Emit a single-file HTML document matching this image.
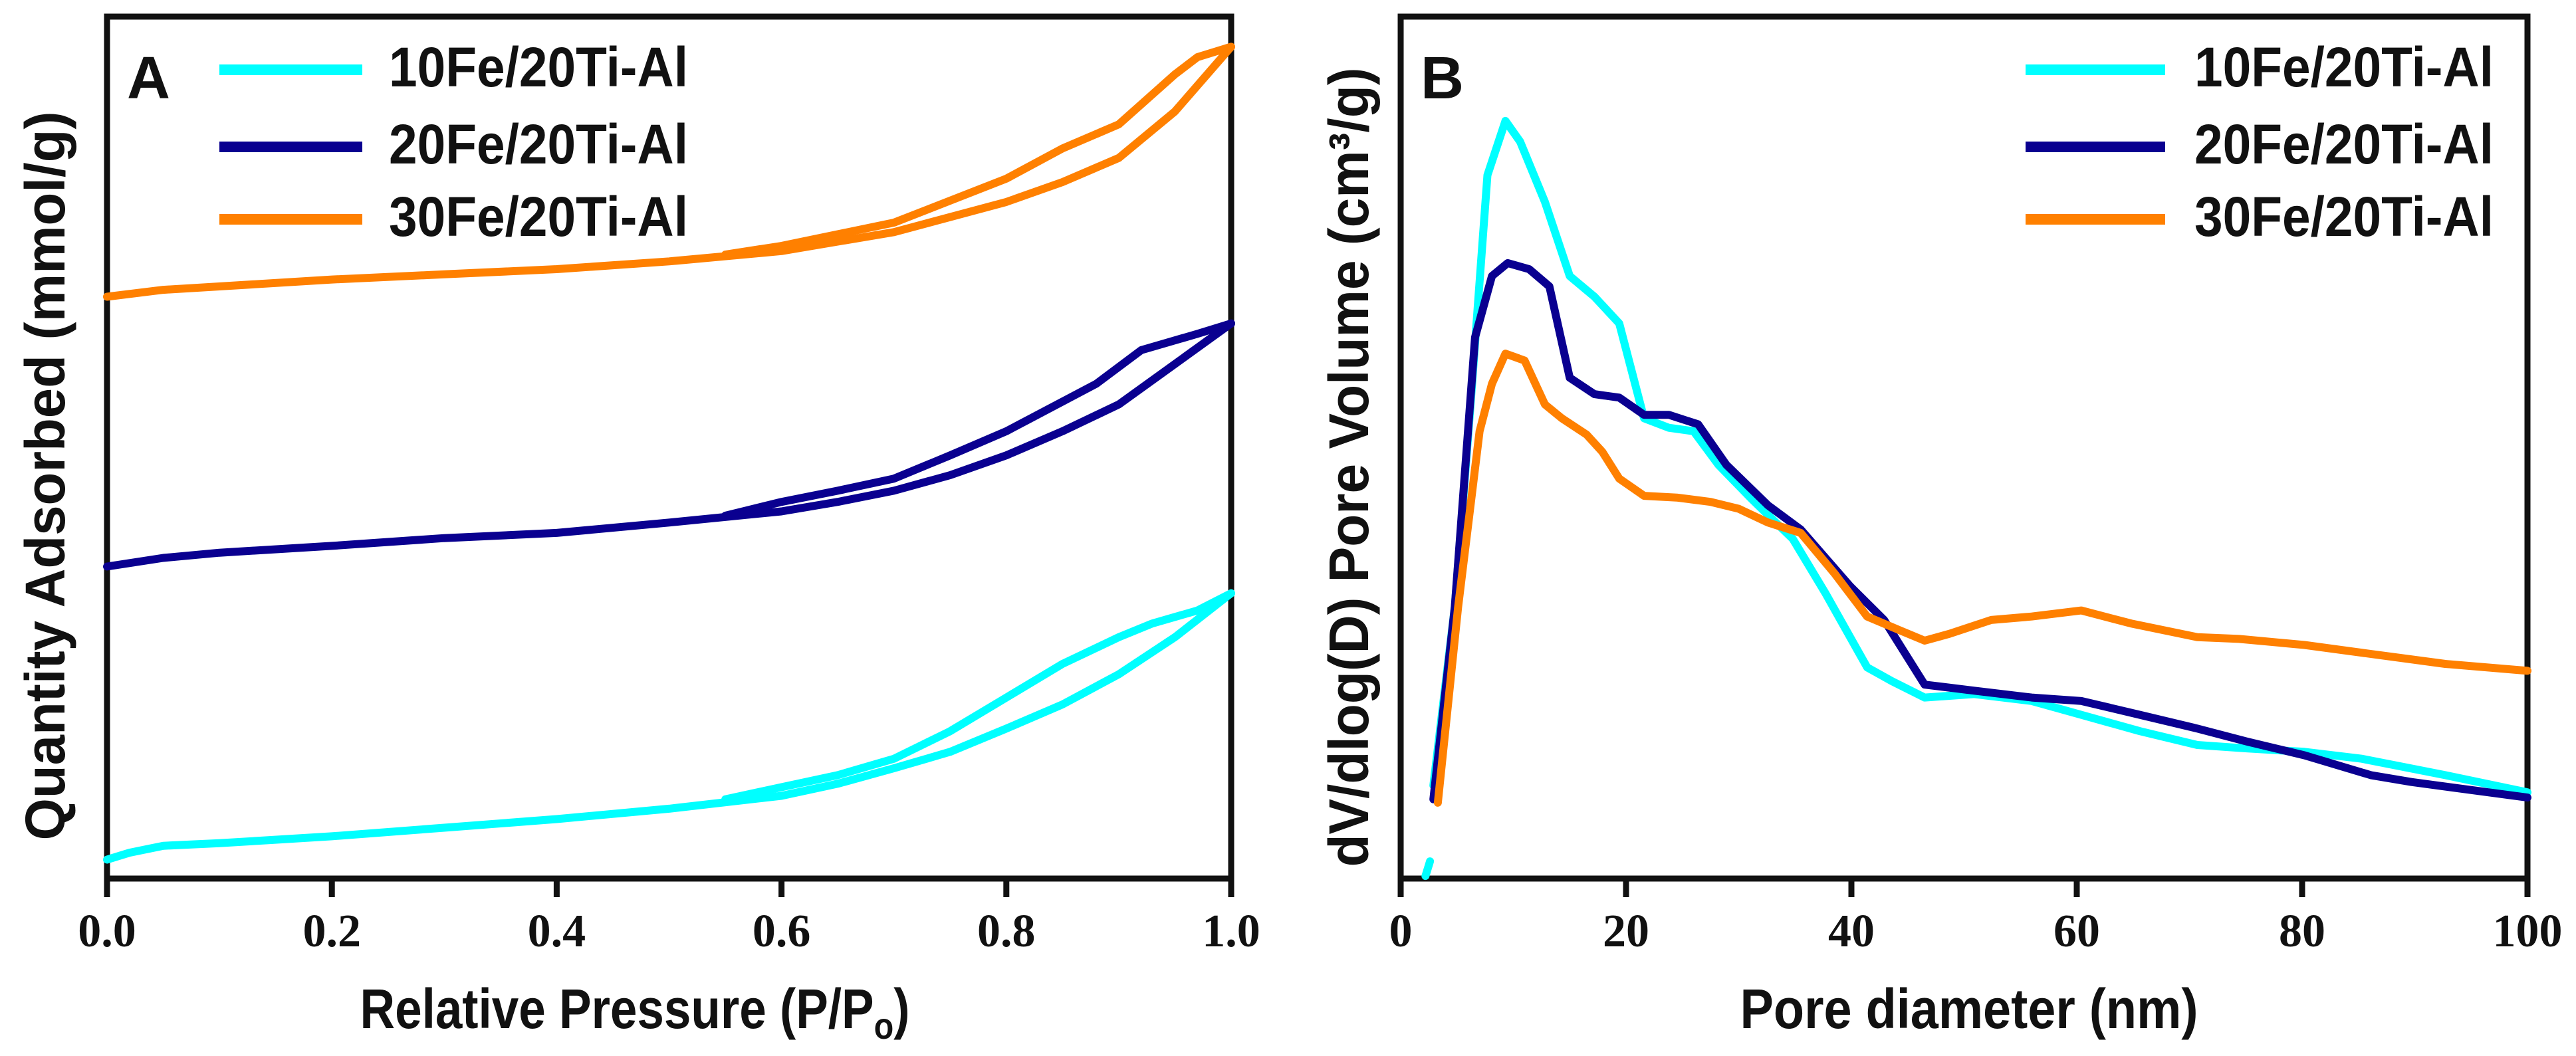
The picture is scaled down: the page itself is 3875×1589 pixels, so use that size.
<!DOCTYPE html>
<html><head><meta charset="utf-8">
<style>
html,body{margin:0;padding:0;background:#fff;}
svg{display:block;}
text{font-family:"Liberation Sans Narrow","Liberation Sans",sans-serif;font-weight:bold;fill:#111;}
.tick{font-family:"Liberation Serif",serif;font-weight:bold;font-size:70px;fill:#111;}
</style></head>
<body>
<svg id="chart" width="3875" height="1589" viewBox="0 0 3875 1589" xmlns="http://www.w3.org/2000/svg">
<g id="panelA"></g>
<g id="panelB"></g>
</svg>
<script>
// Panel A data
const aTicks = [0.0, 0.2, 0.4, 0.6, 0.8, 1.0];
const aTickLabels = ["0.0", "0.2", "0.4", "0.6", "0.8", "1.0"];
const c10AdsX = [0,0.02,0.05,0.1,0.2,0.3,0.4,0.5,0.6,0.65,0.7,0.75,0.8,0.85,0.9,0.95,1.0];
const c10AdsY = [2.2,3.0,3.8,4.1,4.9,5.9,6.9,8.1,9.6,11.0,12.8,14.7,17.4,20.2,23.7,28.0,33.1];
const c10DesX = [1.0,0.97,0.93,0.9,0.85,0.8,0.75,0.7,0.65,0.6,0.55];
const c10DesY = [33.1,31.1,29.6,28.0,24.9,21.0,17.1,13.9,12.0,10.6,9.2];
const c20AdsX = [0,0.05,0.1,0.2,0.3,0.4,0.5,0.6,0.65,0.7,0.75,0.8,0.85,0.9,0.95,1.0];
const c20AdsY = [36.2,37.2,37.8,38.6,39.5,40.1,41.3,42.6,43.7,45.0,46.8,49.1,51.9,55.0,59.7,64.4];
const c20DesX = [1.0,0.97,0.92,0.88,0.8,0.75,0.7,0.65,0.6,0.55];
const c20DesY = [64.4,63.2,61.3,57.4,51.9,49.1,46.4,45.0,43.7,42.1];
const c30AdsX = [0,0.05,0.1,0.2,0.3,0.4,0.5,0.6,0.7,0.8,0.85,0.9,0.95,1.0];
const c30AdsY = [67.5,68.3,68.7,69.5,70.1,70.7,71.6,72.8,75.0,78.5,80.8,83.6,89.0,96.5];
const c30DesX = [1.0,0.97,0.95,0.9,0.85,0.8,0.7,0.6,0.55];
const c30DesY = [96.5,95.3,93.3,87.5,84.7,81.2,76.1,73.4,72.4];
// Panel B data
const bTicks = [0,20,40,60,80,100];
const bTickLabels = ["0","20","40","60","80","100"];
const b10X = [2.9,4.8,6.2,7.7,9.3,10.6,12.8,15.0,17.2,19.4,21.6,23.8,26.0,28.2,31.1,34.8,37.7,41.4,43.6,46.5,50.9,56.0,60.4,65.6,70.7,75.1,80.2,85.3,92.7,100];
const b10Y = [10.8,31.5,55.0,81.6,87.9,85.5,78.5,69.9,67.5,64.4,53.4,52.3,51.9,48.0,44.1,39.4,33.1,24.5,22.9,21.0,21.4,20.6,19.0,17.1,15.5,15.1,14.7,13.9,12.0,10.0];
const b10StubX = [2.2,2.6];
const b10StubY = [0.3,2.0];
const b20X = [2.9,4.8,6.6,8.1,9.5,11.4,13.2,15.0,17.2,19.4,21.6,23.8,26.4,28.9,32.6,35.5,39.9,42.9,46.5,50.9,56.0,60.4,65.6,70.7,75.1,80.2,86.1,89.7,100];
const b20Y = [9.2,31.5,62.8,69.9,71.4,70.7,68.7,58.1,56.2,55.8,53.8,53.8,52.7,48.0,43.3,40.5,33.9,30.0,22.5,21.8,21.0,20.6,19.0,17.4,15.9,14.3,12.0,11.2,9.4];
const b30X = [3.3,5.1,7.0,8.1,9.3,11.0,12.8,14.3,16.5,17.9,19.4,21.6,24.5,27.5,30.0,32.6,35.5,38.5,41.4,44.3,46.5,48.7,52.4,56.0,60.4,64.8,70.7,74.4,80.2,85.3,92.7,100];
const b30Y = [8.8,31.5,51.9,57.4,60.9,60.1,55.0,53.4,51.5,49.5,46.4,44.4,44.2,43.7,42.9,41.3,40.1,35.4,30.4,28.8,27.6,28.4,30.0,30.4,31.1,29.6,28.0,27.8,27.1,26.2,24.9,24.1];
const seriesNames = ["10Fe/20Ti-Al","20Fe/20Ti-Al","30Fe/20Ti-Al"];
const colors = ["#00ffff","#0a0090","#ff8000"];

const NS = "http://www.w3.org/2000/svg";
function mk(tag, attrs, parent){ const e=document.createElementNS(NS,tag); for(const k in attrs) e.setAttribute(k,attrs[k]); parent.appendChild(e); return e; }
const plotTop=25, plotBot=1322;
function yS(v){ return plotBot - v/100*(plotBot-plotTop); }

function drawPanel(g, L, R, xmin, xmax, ticks, tickLabels, letter, xTitle, xTitleX, xTitleLen){
  const xS = v => L + (v-xmin)/(xmax-xmin)*(R-L);
  const ax = mk('path',{d:`M${L},${plotTop} L${R},${plotTop} L${R},${plotBot} L${L},${plotBot} Z`,fill:'none',stroke:'#111','stroke-width':9},g);
  
  
  ticks.forEach((t,i)=>{
    const tm = mk('line',{x1:xS(t),x2:xS(t),y1:plotBot,y2:plotBot+28,stroke:'#111','stroke-width':9},g);
    
    
    const tx = mk('text',{x:xS(t),y:1424,'text-anchor':'middle','class':'tick'},g);
    tx.textContent = tickLabels[i];
    
    
  });
  const lt = mk('text',{x:L+30,y:148,'font-size':90},g);
  lt.textContent = letter;
  
  
  const xt = mk('text',{x:xTitleX,y:1547,'text-anchor':'middle','font-size':84,textLength:xTitleLen,lengthAdjust:'spacingAndGlyphs'},g);
  xt.innerHTML = xTitle;
  
  
  return xS;
}
function line(g, xS, xs, ys, color, name){
  const d = xs.map((x,i)=>(i?'L':'M')+xS(x).toFixed(1)+','+yS(ys[i]).toFixed(1)).join(' ');
  const p = mk('path',{d:d,fill:'none',stroke:color,'stroke-width':12,'stroke-linejoin':'round','stroke-linecap':'round'},g);
  
  
}
function legend(g, x1, x2, tx){
  const ys=[105,221,330];
  seriesNames.forEach((n,i)=>{
    const l = mk('line',{x1:x1,x2:x2,y1:ys[i],y2:ys[i],stroke:colors[i],'stroke-width':16},g);
    
    
    const t = mk('text',{x:tx,y:ys[i]+25,'font-size':84,textLength:450,lengthAdjust:'spacingAndGlyphs'},g);
    t.textContent = n;
    
    
  });
}
function yTitle(g, cx, cy, html, len){
  const t = mk('text',{x:0,y:0,'font-size':84,'text-anchor':'middle',transform:`translate(${cx},${cy}) rotate(-90)`,textLength:len,lengthAdjust:'spacingAndGlyphs'},g);
  t.innerHTML = html;
  
  
}

const gA = document.getElementById('panelA');
const xA = drawPanel(gA, 161, 1852, 0, 1, aTicks, aTickLabels, 'A', 'Relative Pressure (P/P<tspan font-size="56" dy="16">o</tspan><tspan dy="-16">)</tspan>', 955, 827);
yTitle(gA, 97, 716, 'Quantity Adsorbed (mmol/g)', 1097);
line(gA,xA,c10AdsX,c10AdsY,colors[0],'isotherm-10fe-adsorption');
line(gA,xA,c10DesX,c10DesY,colors[0],'isotherm-10fe-desorption');
line(gA,xA,c20AdsX,c20AdsY,colors[1],'isotherm-20fe-adsorption');
line(gA,xA,c20DesX,c20DesY,colors[1],'isotherm-20fe-desorption');
line(gA,xA,c30AdsX,c30AdsY,colors[2],'isotherm-30fe-adsorption');
line(gA,xA,c30DesX,c30DesY,colors[2],'isotherm-30fe-desorption');
legend(gA, 330, 545, 585);

const gB = document.getElementById('panelB');
const xB = drawPanel(gB, 2107, 3802, 0, 100, bTicks, bTickLabels, 'B', 'Pore diameter (nm)', 2962, 689);
yTitle(gB, 2058, 703, 'dV/dlog(D)  Pore Volume (cm³/g)', 1203);
line(gB,xB,b10StubX,b10StubY,colors[0],'pore-10fe-stub');
line(gB,xB,b10X,b10Y,colors[0],'pore-10fe-line');
line(gB,xB,b20X,b20Y,colors[1],'pore-20fe-line');
line(gB,xB,b30X,b30Y,colors[2],'pore-30fe-line');
legend(gB, 3047, 3257, 3301);
</script>
</body></html>
